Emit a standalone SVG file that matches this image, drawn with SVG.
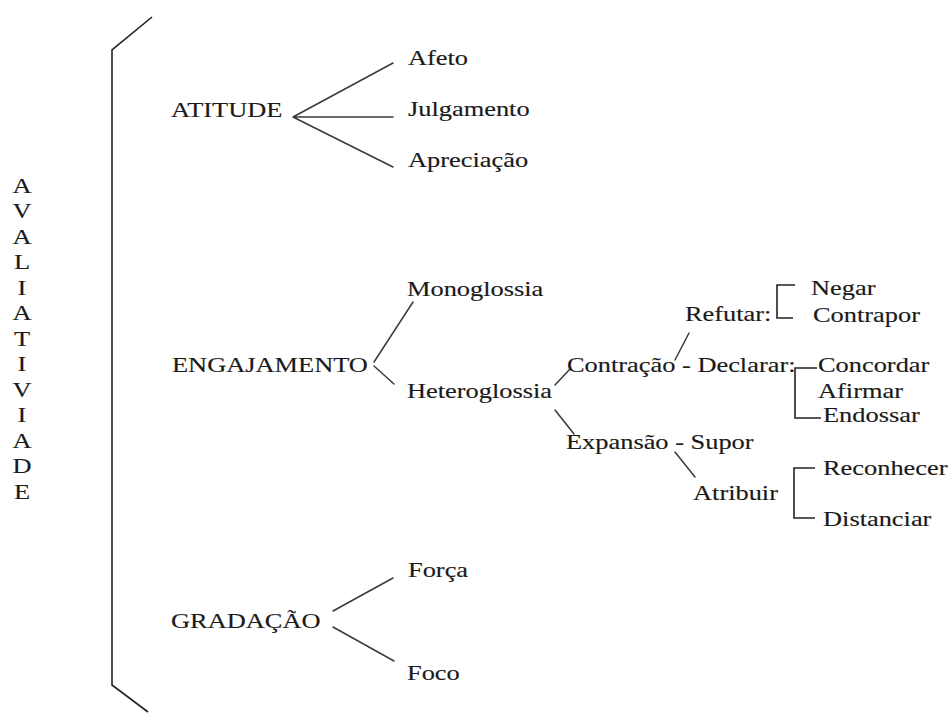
<svg xmlns="http://www.w3.org/2000/svg" width="952" height="713" viewBox="0 0 952 713">
<style>
text{font-family:"Liberation Serif","Times New Roman",serif;font-size:22px;fill:#1a1a1a;stroke:#1a1a1a;stroke-width:0.15}
.c{fill:none;stroke:#3a3a3a;stroke-width:1.5;stroke-linecap:round}
.b{fill:none;stroke:#222;stroke-width:1.6}
</style>
<rect width="952" height="713" fill="#fff"/>
<g id="avaliatividade" transform="translate(22 0) scale(1.2 1)">
<text x="0" y="193" text-anchor="middle">A</text>
<text x="0" y="218.5" text-anchor="middle">V</text>
<text x="0" y="244" text-anchor="middle">A</text>
<text x="0" y="269.5" text-anchor="middle">L</text>
<text x="0" y="295" text-anchor="middle">I</text>
<text x="0" y="320.5" text-anchor="middle">A</text>
<text x="0" y="346" text-anchor="middle">T</text>
<text x="0" y="371.5" text-anchor="middle">I</text>
<text x="0" y="397" text-anchor="middle">V</text>
<text x="0" y="422.5" text-anchor="middle">I</text>
<text x="0" y="448" text-anchor="middle">A</text>
<text x="0" y="473.5" text-anchor="middle">D</text>
<text x="0" y="499" text-anchor="middle">E</text>
</g>
<g id="connectors">
<path class="b" d="M152,17 L112,50 L112,685 L148,712"/>
<path class="c" d="M293,117 L393,63 M293,117 L393,117 M293,117 L393,167"/>
<path class="c" d="M374,362 L413,302 M374,366 L394,384"/>
<path class="c" d="M555,385 L570,369 M555,410 L574,434"/>
<path class="c" d="M675,360 L689,333"/>
<path class="c" d="M675,452 L695,477"/>
<path class="b" d="M795,285 L777,285 L777,318 L793,318"/>
<path class="b" d="M817,368 L795,368 L795,418 L821,418"/>
<path class="b" d="M815,468 L794,468 L794,518 L815,518"/>
<path class="c" d="M333,611 L393,578 M333,627 L394,661"/>
</g>
<g id="atitude" transform="translate(171 117) scale(1.2 1)"><text>ATITUDE</text></g>
<g id="afeto" transform="translate(408 65) scale(1.2 1)"><text>Afeto</text></g>
<g id="julgamento" transform="translate(408 116) scale(1.2 1)"><text>Julgamento</text></g>
<g id="apreciacao" transform="translate(408 167) scale(1.2 1)"><text>Apreciação</text></g>
<g id="engajamento" transform="translate(172 372) scale(1.2 1)"><text>ENGAJAMENTO</text></g>
<g id="monoglossia" transform="translate(407 296) scale(1.2 1)"><text>Monoglossia</text></g>
<g id="heteroglossia" transform="translate(407 398) scale(1.2 1)"><text>Heteroglossia</text></g>
<g id="contracao" transform="translate(567 372) scale(1.2 1)"><text>Contração - Declarar:</text></g>
<g id="refutar" transform="translate(685 321) scale(1.2 1)"><text>Refutar:</text></g>
<g id="negar" transform="translate(811 295) scale(1.2 1)"><text>Negar</text></g>
<g id="contrapor" transform="translate(813 322) scale(1.2 1)"><text>Contrapor</text></g>
<g id="concordar" transform="translate(818 372) scale(1.2 1)"><text>Concordar</text></g>
<g id="afirmar" transform="translate(818 398) scale(1.2 1)"><text>Afirmar</text></g>
<g id="endossar" transform="translate(823 422) scale(1.2 1)"><text>Endossar</text></g>
<g id="expansao" transform="translate(566 449) scale(1.2 1)"><text>Expansão - Supor</text></g>
<g id="atribuir" transform="translate(693 500) scale(1.2 1)"><text>Atribuir</text></g>
<g id="reconhecer" transform="translate(823 475) scale(1.2 1)"><text>Reconhecer</text></g>
<g id="distanciar" transform="translate(823 526) scale(1.2 1)"><text>Distanciar</text></g>
<g id="gradacao" transform="translate(171 628) scale(1.2 1)"><text>GRADAÇÃO</text></g>
<g id="forca" transform="translate(408 577) scale(1.2 1)"><text>Força</text></g>
<g id="foco" transform="translate(407 680) scale(1.2 1)"><text>Foco</text></g>
</svg>
